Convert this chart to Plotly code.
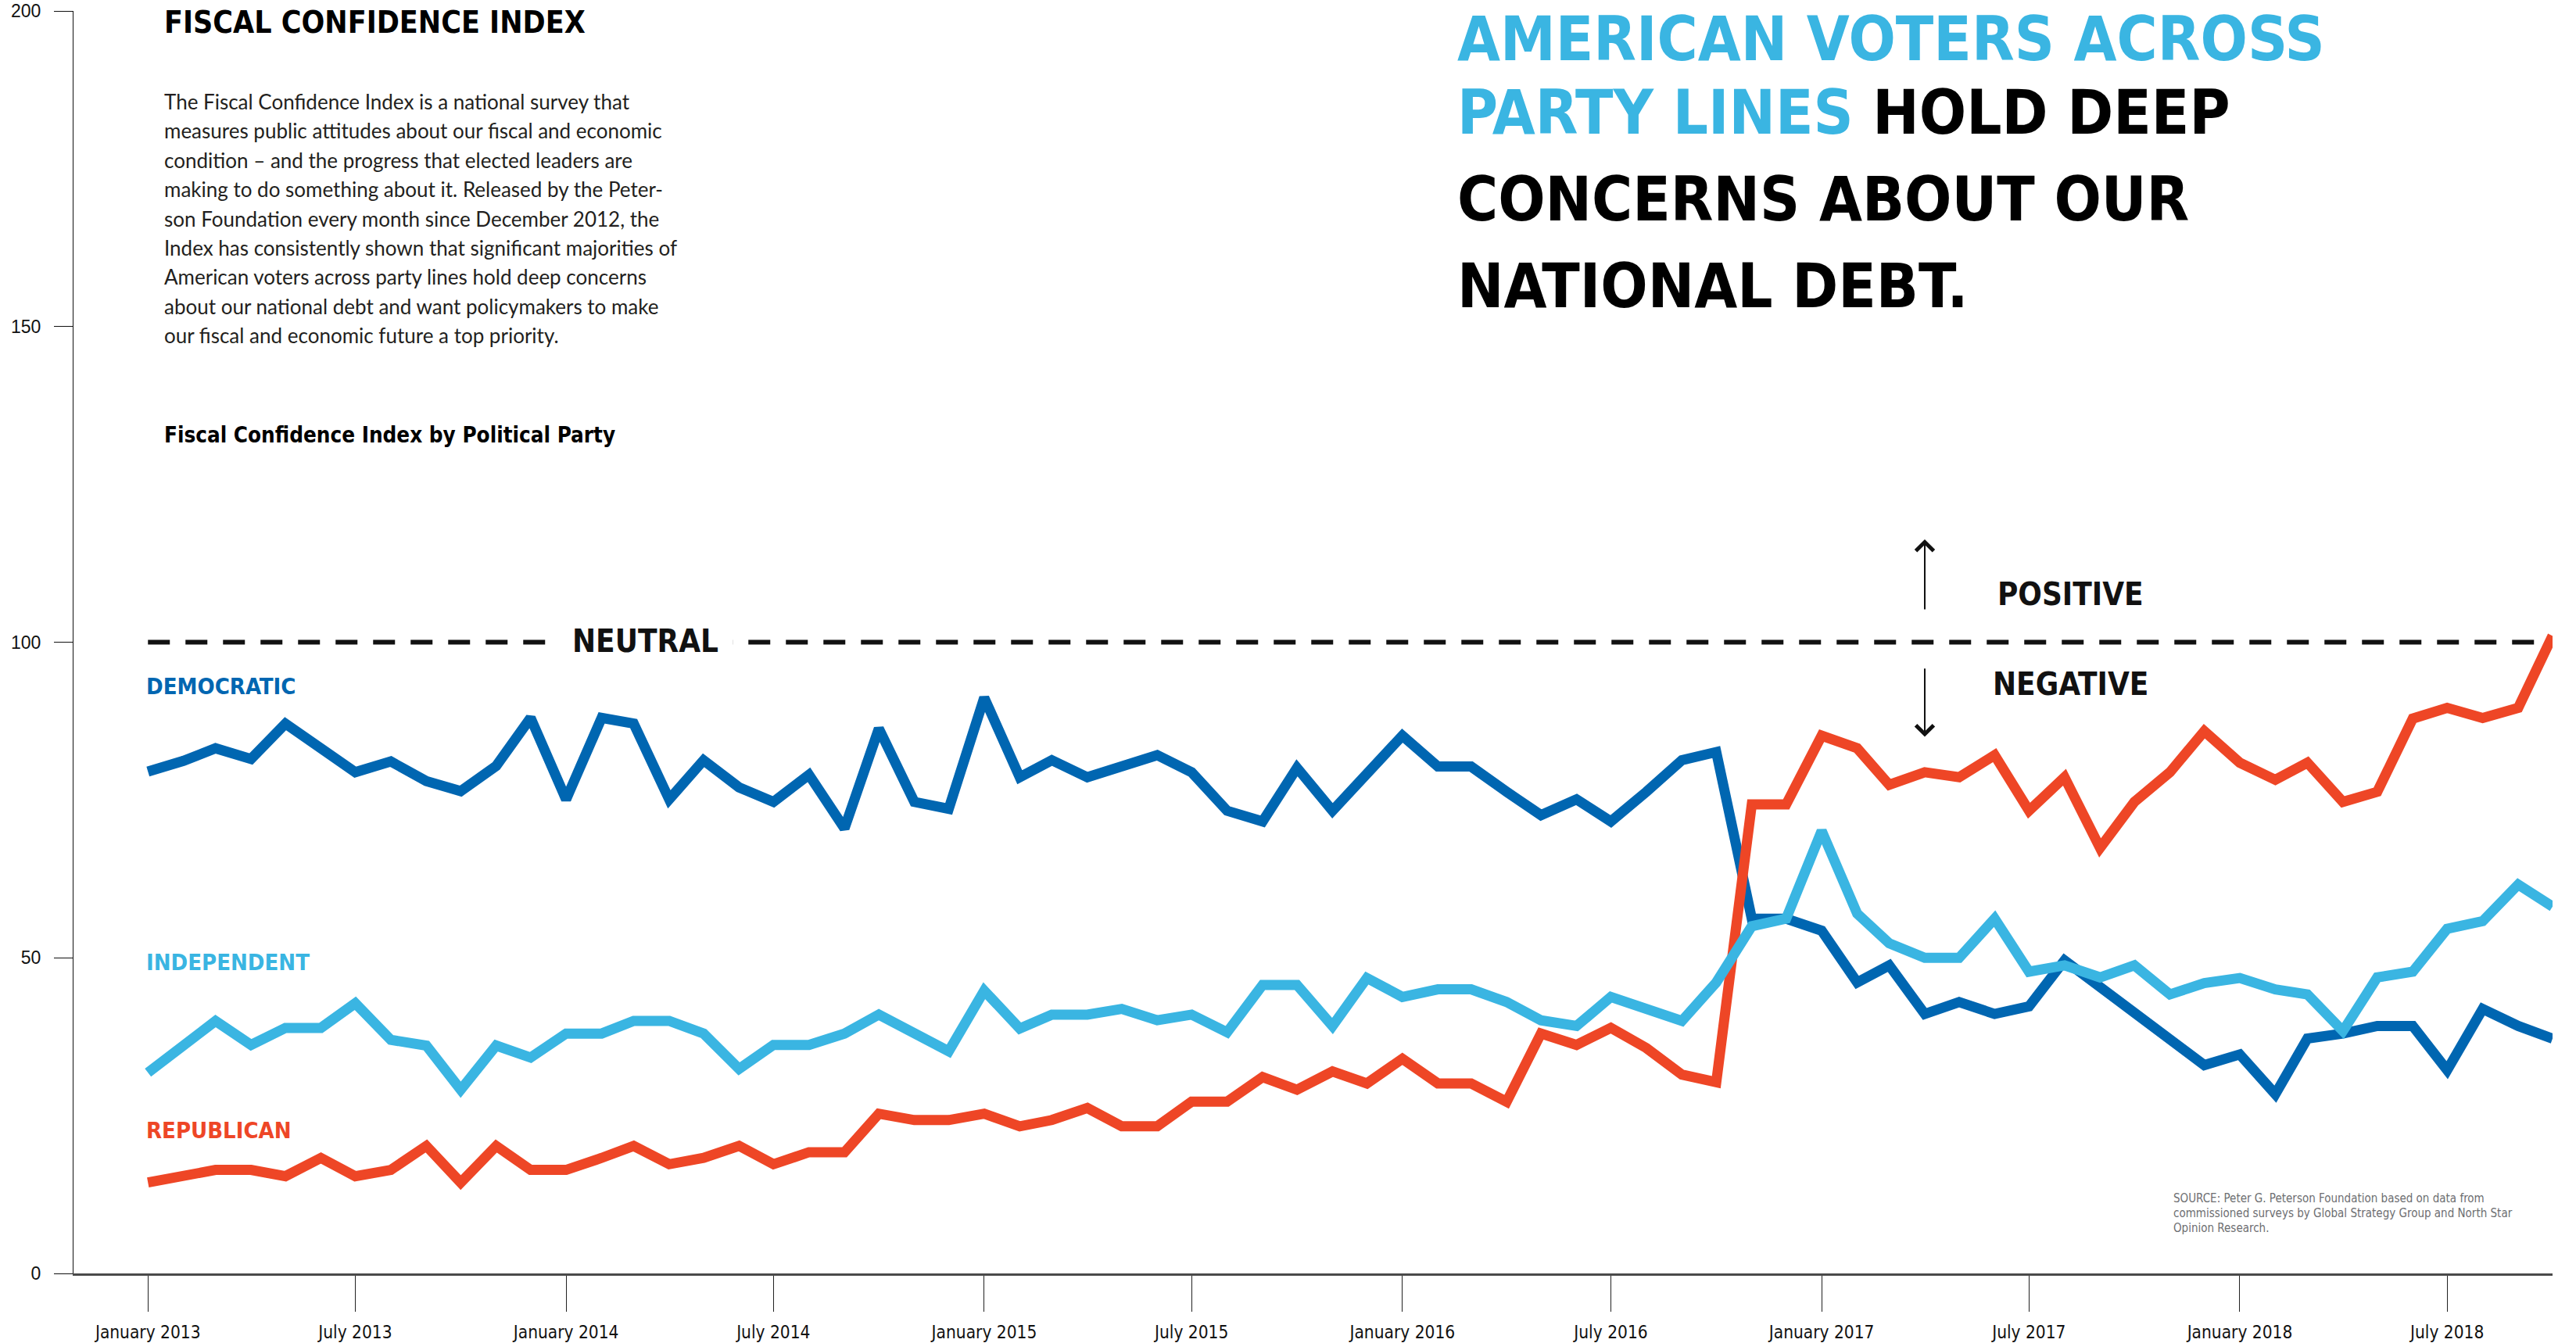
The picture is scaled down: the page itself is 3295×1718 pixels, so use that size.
import pandas as pd
import plotly.graph_objects as go

# ---------------- data ----------------
months = pd.date_range("2013-01-01", "2018-10-01", freq="MS")

democratic = [
    79.5, 81.2, 83.2, 81.5, 87.1, 83.2, 79.4, 81.1, 78.0, 76.4, 80.4, 88.0,
    75.1, 88.0, 87.1, 75.1, 81.3, 77.0, 74.7, 79.0, 70.5, 86.3, 74.7, 73.6,
    91.2, 78.6, 81.3, 78.6, 80.3, 82.1, 79.4, 73.3, 71.6, 80.1, 73.3, 79.4,
    85.2, 80.3, 80.3, 76.3, 72.6, 75.1, 71.6, 76.3, 81.3, 82.6, 56.2, 56.2,
    54.3, 46.1, 48.8, 41.1, 43.0, 41.1, 42.3, 49.6, 45.4, 41.5, 36.9, 33.0,
    34.7, 28.4, 37.2, 38.0, 39.2, 39.2, 32.2, 41.9, 39.2, 37.2,
]
independent = [
    31.8, 36.1, 40.0, 36.2, 38.9, 38.9, 42.8, 37.0, 36.1, 29.1, 36.1, 34.2,
    38.0, 38.0, 40.0, 40.0, 38.0, 32.4, 36.2, 36.2, 38.0, 41.0, 38.0, 35.2,
    44.8, 38.8, 41.0, 41.0, 41.9, 40.1, 41.0, 38.2, 45.7, 45.7, 39.2, 46.8,
    43.8, 45.0, 45.0, 43.0, 40.1, 39.2, 43.8, 41.9, 40.0, 46.1, 55.0, 56.2,
    70.1, 57.0, 52.3, 50.0, 50.0, 56.2, 47.8, 48.8, 46.9, 48.8, 44.2, 46.0,
    46.8, 45.0, 44.2, 38.4, 46.9, 47.8, 54.6, 55.8, 61.6, 58.1,
]
republican = [
    14.4, 15.4, 16.4, 16.4, 15.4, 18.3, 15.4, 16.4, 20.2, 14.4, 20.2, 16.4,
    16.4, 18.3, 20.2, 17.3, 18.3, 20.2, 17.3, 19.2, 19.2, 25.3, 24.3, 24.3,
    25.3, 23.3, 24.3, 26.2, 23.3, 23.3, 27.2, 27.2, 31.1, 29.1, 32.0, 30.1,
    34.0, 30.1, 30.1, 27.2, 38.0, 36.2, 38.9, 35.7, 31.5, 30.3, 74.3, 74.3,
    85.2, 83.2, 77.4, 79.4, 78.6, 82.1, 73.3, 78.6, 67.4, 74.7, 79.4, 85.9,
    80.9, 78.2, 80.9, 74.7, 76.3, 87.9, 89.6, 88.0, 89.6, 101.0,
]

neutral_level = 100
x_tick_dates = pd.date_range("2013-01-01", "2018-07-01", freq="6MS")
x_tick_labels = [
    "January 2013", "July 2013", "January 2014", "July 2014",
    "January 2015", "July 2015", "January 2016", "July 2016",
    "January 2017", "July 2017", "January 2018", "July 2018",
]
y_tick_values = [0, 50, 100, 150, 200]
y_tick_labels = ["0", "50", "100", "150", "200"]

paragraph_lines = [
    "The Fiscal Confidence Index is a national survey that",
    "measures public attitudes about our fiscal and economic",
    "condition \u2013 and the progress that elected leaders are",
    "making to do something about it. Released by the Peter-",
    "son Foundation every month since December 2012, the",
    "Index has consistently shown that significant majorities of",
    "American voters across party lines hold deep concerns",
    "about our national debt and want policymakers to make",
    "our fiscal and economic future a top priority.",
]
source_lines = [
    "SOURCE: Peter G. Peterson Foundation based on data from",
    "commissioned surveys by Global Strategy Group and North Star",
    "Opinion Research.",
]

# ---------------- style ----------------
DEM = "#0066B1"
IND = "#3AB5E2"
REP = "#EE4626"
INK = "#111111"
COND = "DejaVu Sans Condensed, Liberation Sans Narrow, sans-serif"
BODY = "Lato, Open Sans, sans-serif"

W, H = 3295, 1718
ML, MR, MT, MB = 94, 30, 14, 89
PW, PH = W - ML - MR, H - MT - MB


def px(x):
    return (x - ML) / PW


def py(y):
    return (H - MB - y) / PH


fig = go.Figure()

for name, vals, col in [
    ("Democratic", democratic, DEM),
    ("Republican", republican, REP),
    ("Independent", independent, IND),
]:
    fig.add_trace(go.Scatter(
        x=months, y=vals, mode="lines", name=name,
        line=dict(color=col, width=13), hoverinfo="skip",
    ))

# neutral dashed reference line
fig.add_shape(
    type="line", xref="x", yref="y",
    x0=months[0], x1=months[-1], y0=neutral_level, y1=neutral_level,
    line=dict(color=INK, width=6, dash="28px,20px"), layer="below",
)

ann = []


def text(x, y, s, size, color="#000", family=COND, weight="normal",
         xanchor="left", xref="paper", yref="paper", **kw):
    ann.append(dict(
        x=x, y=y, xref=xref, yref=yref, text=s, showarrow=False,
        xanchor=xanchor, yanchor="middle",
        font=dict(family=family, size=size, color=color, weight=weight), **kw,
    ))


# left header block
text(px(208), py(29), "FISCAL CONFIDENCE INDEX", 39, weight="bold")
for i, line in enumerate(paragraph_lines):
    text(px(208), py(130 + 37.4 * i), line, 26, color="#231f20", family=BODY)
text(px(208), py(556), "Fiscal Confidence Index by Political Party", 27.6, weight="bold")

# headline
head = [
    f"<span style='color:{IND}'>AMERICAN VOTERS ACROSS</span>",
    f"<span style='color:{IND}'>PARTY LINES</span> HOLD DEEP",
    "CONCERNS ABOUT OUR",
    "NATIONAL DEBT.",
]
head_centers = [50, 144, 255, 366]
for line, c in zip(head, head_centers):
    text(px(1862), py(c), line, 79, weight="bold")

# source
for i, line in enumerate(source_lines):
    text(px(2778), py(1533 + 19 * i), line, 15, color="#6d6e71")

# series labels (data coordinates)
text(months[0], 93.0, "DEMOCRATIC", 29, color=DEM, weight="bold", xref="x", yref="y", xshift=-4)
text(months[0], 49.3, "INDEPENDENT", 29, color=IND, weight="bold", xref="x", yref="y", xshift=-4)
text(months[0], 22.7, "REPUBLICAN", 29, color=REP, weight="bold", xref="x", yref="y", xshift=-4)

# neutral / positive / negative
text("2014-03-11", neutral_level, "NEUTRAL", 40, color=INK, weight="bold", xanchor="center",
     xref="x", yref="y", yshift=2, bgcolor="white", borderpad=18)
text("2017-08-06", 107.6, "POSITIVE", 40, color=INK, weight="bold", xanchor="center",
     xref="x", yref="y")
text("2017-08-06", 93.4, "NEGATIVE", 40, color=INK, weight="bold", xanchor="center",
     xref="x", yref="y")

for head_y, tail_y in [(116.3, 105.0), (85.0, 96.0)]:
    ann.append(dict(
        x="2017-04-01", y=head_y, ax="2017-04-01", ay=tail_y,
        xref="x", yref="y", axref="x", ayref="y", text="",
        showarrow=True, arrowhead=4, arrowsize=2.2, arrowwidth=2,
        arrowcolor=INK, standoff=0, startstandoff=0,
    ))

fig.update_layout(
    width=W, height=H,
    margin=dict(l=ML, r=MR, t=MT, b=MB, pad=0, autoexpand=False),
    paper_bgcolor="white", plot_bgcolor="white",
    showlegend=False, hovermode=False,
    annotations=ann,
    xaxis=dict(
        type="date", range=["2012-10-28", "2018-10-01"],
        automargin=False,
        showgrid=False, zeroline=False,
        showline=True, linecolor="#4a4a4a", linewidth=2.5,
        ticks="outside", ticklen=46, tickwidth=1.2, tickcolor="#222",
        tickvals=list(x_tick_dates), ticktext=x_tick_labels,
        tickfont=dict(family=COND, size=22.5, color="#111"),
        ticklabelstandoff=7,
    ),
    yaxis=dict(
        range=[0, 200], automargin=False,
        showgrid=False, zeroline=False,
        showline=True, linecolor="#111", linewidth=1.3,
        ticks="outside", ticklen=24, tickwidth=1.3, tickcolor="#111",
        tickvals=y_tick_values, ticktext=y_tick_labels,
        tickfont=dict(family="Liberation Sans, Arial, sans-serif", size=23, color="#111"),
        ticklabelstandoff=12, ticklabeloverflow="allow",
    ),
)

fig.write_html(
    "out.html",
    config={"displayModeBar": False},
    post_script="document.body.style.margin='0';",
)
